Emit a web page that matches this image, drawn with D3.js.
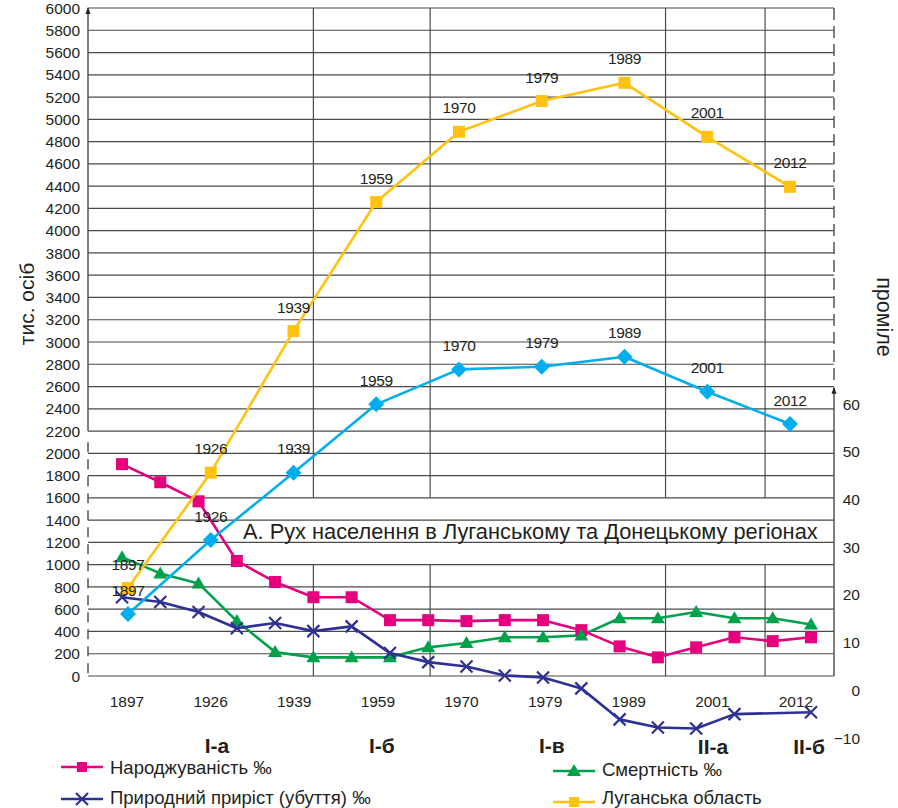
<!DOCTYPE html>
<html><head><meta charset="utf-8">
<script src="https://cdn.jsdelivr.net/npm/d3@7"></script>
<style>
html,body{margin:0;padding:0;background:#fff;}
svg{display:block;font-family:"Liberation Sans",Arial,sans-serif;}
</style></head>
<body><svg id="c" width="898" height="808"></svg>
<script>
// ---- data ----
const years = ["1897","1926","1939","1959","1970","1979","1989","2001","2012"];
const luhansk = [790, 1826, 3098, 4257, 4888, 5164, 5328, 4843, 4394];
const donetsk = [557, 1221, 1826, 2440, 2754, 2778, 2868, 2553, 2263];
const birthRate = [47.4, 43.6, 39.6, 27.1, 22.7, 19.5, 19.5, 14.7, 14.7, 14.5, 14.7, 14.7, 12.6, 9.2, 6.9, 9.0, 11.1, 10.3, 11.1];
const deathRate = [27.9, 24.5, 22.4, 14.5, 8.0, 6.9, 6.9, 6.9, 9.0, 9.9, 11.1, 11.1, 11.5, 15.1, 15.1, 16.4, 15.1, 15.1, 13.8];
const naturalRate = [19.5, 18.5, 16.4, 13.0, 14.1, 12.4, 13.4, 7.8, 5.9, 5.0, 3.1, 2.7, 0.4, -6.1, -7.8, -8.0, -5.0, null, -4.6];
const leftTicks = d3.range(0, 6001, 200);
const rightTicks = [-10, 0, 10, 20, 30, 40, 50, 60];
const periodLabels = ["І-а", "І-б", "І-в", "ІІ-а", "ІІ-б"];
const periodPos = [2.48, 6.79, 11.23, 15.44, 17.95];
const periodDividers = [5, 8.05, 14.2, 16.8];
const title = "А. Рух населення в Луганському та Донецькому регіонах";
const leftTitle = "тис. осіб";
const rightTitle = "проміле";
const legendItems = [
  {name: "Народжуваність ‰", key: "birth"},
  {name: "Природний приріст (убуття) ‰", key: "natural"},
  {name: "Смертність ‰", key: "death"},
  {name: "Луганська область", key: "luhansk"}
];

// ---- styles ----
const colors = {birth: "#e5007d", death: "#00a14b", natural: "#2e3192", luhansk: "#ffc20e", donetsk: "#00aeef"};
const textColor = "#231f20";
const gridColor = "#4a4a4a";

const svg = d3.select("#c");
const plotL = 88, plotR = 834, plotT = 8, plotB = 676;

const yL = d3.scaleLinear().domain([0, 6000]).range([plotB, plotT]);
const yR = d3.scaleLinear().domain([-10, 60]).range([738, 404]);
const xPop = d3.scalePoint().domain(years).range([128, 790]);
const xTick = d3.scalePoint().domain(years).range([127, 796]);
const xRate = d3.scaleLinear().domain([0, birthRate.length - 1]).range([122, 811]);

// ---- grid ----
const g = svg.append("g");
g.selectAll("line.h").data(leftTicks).join("line")
  .attr("x1", plotL).attr("x2", plotR)
  .attr("y1", d => yL(d)).attr("y2", d => yL(d))
  .attr("stroke", gridColor).attr("stroke-width", 1.2);

// vertical dividers, interrupted by title box
periodDividers.forEach(p => {
  const x = xRate(p);
  g.append("line").attr("x1", x).attr("x2", x).attr("y1", plotT).attr("y2", yL(1600))
    .attr("stroke", gridColor).attr("stroke-width", 1.2);
  g.append("line").attr("x1", x).attr("x2", x).attr("y1", yL(1000)).attr("y2", plotB)
    .attr("stroke", gridColor).attr("stroke-width", 1.2);
});

// ---- axes ----
const axisColor = "#555";
// left axis
g.append("line").attr("x1", plotL).attr("x2", plotL).attr("y1", plotT).attr("y2", yL(2200))
  .attr("stroke", axisColor).attr("stroke-width", 1.5);
g.append("line").attr("x1", plotL).attr("x2", plotL).attr("y1", yL(2100)).attr("y2", plotB)
  .attr("stroke", axisColor).attr("stroke-width", 1.5).attr("stroke-dasharray", "10,7");
g.append("path").attr("d", `M${plotL},${plotT - 1} l-2.5,7 h5 z`).attr("fill", "#222");
// right axis
const rTop = yL(2590);
g.append("line").attr("x1", plotR).attr("x2", plotR).attr("y1", plotT).attr("y2", rTop - 4)
  .attr("stroke", axisColor).attr("stroke-width", 1.5).attr("stroke-dasharray", "12,6");
g.append("line").attr("x1", plotR).attr("x2", plotR).attr("y1", rTop).attr("y2", plotB)
  .attr("stroke", axisColor).attr("stroke-width", 1.5);
g.append("path").attr("d", `M${plotR},${rTop - 1} l-2.5,7 h5 z`).attr("fill", "#222");

// left tick labels
svg.append("g").selectAll("text").data(leftTicks).join("text")
  .attr("x", 80).attr("y", d => yL(d)).attr("dy", "0.36em")
  .attr("text-anchor", "end").attr("font-size", 15.5).attr("fill", textColor)
  .text(d => d);
// right tick labels
svg.append("g").selectAll("text").data(rightTicks).join("text")
  .attr("x", 860).attr("y", d => yR(d)).attr("dy", "0.36em")
  .attr("text-anchor", "end").attr("font-size", 15.5).attr("fill", textColor)
  .text(d => d < 0 ? "−" + Math.abs(d) : d);
// x tick labels
svg.append("g").selectAll("text").data(years).join("text")
  .attr("x", d => xTick(d)).attr("y", 701).attr("dy", "0.36em")
  .attr("text-anchor", "middle").attr("font-size", 15.5).attr("fill", textColor)
  .text(d => d);

// axis titles
svg.append("text").attr("transform", "translate(34,304) rotate(-90)")
  .attr("text-anchor", "middle").attr("font-size", 21).attr("fill", textColor).text(leftTitle);
svg.append("text").attr("transform", "translate(877,317) rotate(90)")
  .attr("text-anchor", "middle").attr("font-size", 21.5).attr("fill", textColor).text(rightTitle);

// title
svg.append("text").attr("x", 243).attr("y", 539)
  .attr("font-size", 21.8).attr("fill", textColor).text(title);

// period labels
svg.append("g").selectAll("text").data(periodLabels).join("text")
  .attr("x", (d, i) => xRate(periodPos[i])).attr("y", (d, i) => i >= 3 ? 746 : 745).attr("dy", "0.36em")
  .attr("text-anchor", "middle").attr("font-size", 21).attr("font-weight", "bold").attr("fill", textColor)
  .text(d => d);

// ---- series ----
function drawLine(data, xf, yf, color) {
  const pts = data.map((v, i) => ({i, v})).filter(d => d.v !== null);
  svg.append("path").datum(pts)
    .attr("d", d3.line().x(d => xf(d.i)).y(d => yf(d.v)))
    .attr("fill", "none").attr("stroke", color).attr("stroke-width", 2.6).attr("stroke-linejoin", "round");
  return pts;
}
function marker(sel, type, color) {
  if (type === "square") {
    sel.append("rect").attr("x", -6).attr("y", -6).attr("width", 12).attr("height", 12).attr("fill", color);
  } else if (type === "triangle") {
    sel.append("path").attr("d", "M0,-7 L7,5 L-7,5 Z").attr("fill", color);
  } else if (type === "cross") {
    sel.append("path").attr("d", "M-6,-6 L6,6 M-6,6 L6,-6").attr("stroke", color).attr("stroke-width", 2.2).attr("fill", "none");
  } else if (type === "diamond") {
    sel.append("path").attr("d", "M0,-8 L8,0 L0,8 L-8,0 Z").attr("fill", color);
  }
}
function drawMarkers(pts, xf, yf, type, color) {
  svg.append("g").selectAll("g").data(pts).join("g")
    .attr("transform", d => `translate(${xf(d.i)},${yf(d.v)})`)
    .each(function() { marker(d3.select(this), type, color); });
}

// rates
const xr = i => xRate(i);
let p;
p = drawLine(deathRate, xr, yR, colors.death);
p = drawLine(birthRate, xr, yR, colors.birth);
drawMarkers(p, xr, yR, "square", colors.birth);
drawMarkers(deathRate.map((v, i) => ({i, v})), xr, yR, "triangle", colors.death);
p = drawLine(naturalRate, xr, yR, colors.natural);
drawMarkers(p, xr, yR, "cross", colors.natural);

// population
const xp = i => xPop(years[i]);
p = drawLine(luhansk, xp, yL, colors.luhansk);
drawMarkers(p, xp, yL, "square", colors.luhansk);
p = drawLine(donetsk, xp, yL, colors.donetsk);
drawMarkers(p, xp, yL, "diamond", colors.donetsk);

// point year labels
[luhansk, donetsk].forEach(arr => {
  svg.append("g").selectAll("text").data(arr).join("text")
    .attr("x", (d, i) => xPop(years[i])).attr("y", d => yL(d) - 24).attr("dy", "0.36em")
    .attr("text-anchor", "middle").attr("font-size", 15.5).attr("fill", textColor)
    .attr("letter-spacing", "-0.4")
    .text((d, i) => years[i]);
});

// ---- legend ----
const legendPos = {
  birth: {x: 61, y: 767, ty: 767, m: "square"},
  natural: {x: 61, y: 799, ty: 797, m: "cross"},
  death: {x: 553, y: 771, ty: 769, m: "triangle"},
  luhansk: {x: 553, y: 802, ty: 797, m: "square"}
};
legendItems.forEach(it => {
  const lp = legendPos[it.key];
  const c = colors[it.key];
  svg.append("line").attr("x1", lp.x).attr("x2", lp.x + 42).attr("y1", lp.y).attr("y2", lp.y)
    .attr("stroke", c).attr("stroke-width", 2.6);
  const mg = svg.append("g").attr("transform", `translate(${lp.x + 21},${lp.y})`);
  if (lp.m === "square") mg.append("rect").attr("x", -5).attr("y", -5).attr("width", 10).attr("height", 10).attr("fill", c);
  else marker(mg, lp.m, c);
  svg.append("text").attr("x", lp.x + 49).attr("y", lp.ty).attr("dy", "0.36em")
    .attr("font-size", 18.5).attr("fill", textColor).text(it.name);
});
</script></body></html>
